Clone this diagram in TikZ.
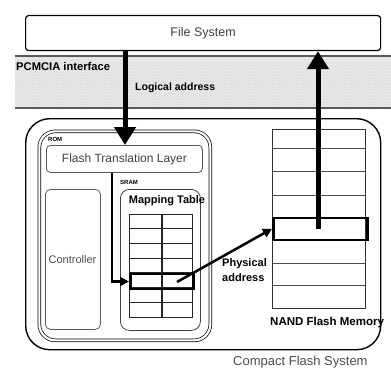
\documentclass[tikz,border=0pt]{standalone}
\usepackage{fontspec}
\setmainfont{Liberation Sans}
\usetikzlibrary{arrows.meta,patterns,calc}
\begin{document}
\begin{tikzpicture}[x=1pt,y=-1pt,
  box/.style={draw, inner sep=0pt, anchor=north west},
  lbl/.style={inner sep=0pt, anchor=west, font=\bfseries\fontsize{10.5}{12}\selectfont},
  tiny/.style={inner sep=0pt, anchor=west, font=\bfseries\fontsize{6}{7}\selectfont},
  big/.style={line width=5pt, -{Triangle[length=18pt,width=21pt]}},
  mid/.style={line width=2.5pt, -{Triangle[length=9pt,width=9pt]}},
  grid/.style={line width=1.1pt, black!85},
  sel/.style={box, line width=2.5pt},
]
\useasboundingbox (0,0) rectangle (391,369);

% PCMCIA band
\fill[black!6] (15,56) rectangle (391,108);
\fill[pattern=crosshatch, pattern color=black!14] (15,56) rectangle (391,108);
\draw[black!65, line width=1.5pt] (15,56) -- (391,56) (15,108) -- (391,108);
\node[lbl, font=\bfseries\fontsize{11.2}{13}\selectfont] (pcm) at (16,66) {PCMCIA interface};
\node[lbl] (logaddr) at (135,88) {Logical address};

% File system
\node[box, line width=1.2pt, rounded corners=3pt, minimum width=355pt, minimum height=35pt,
      font=\fontsize{12.5}{14}\selectfont, text=black!75] (fs) at (25,15) {File System};

% Compact flash system outer
\node[box, line width=1.4pt, rounded corners=24pt, minimum width=355pt, minimum height=231pt] (cfs) at (25,118) {};
\node[inner sep=0pt, anchor=west, font=\fontsize{13}{15}\selectfont, text=black!70] (cfslbl) at (233,362) {Compact Flash System};

% ROM
\node[box, line width=0.7pt, double, double distance=2.2pt, rounded corners=16pt, minimum width=171pt, minimum height=209pt] (rom) at (39,131) {};
\node[tiny] (romlbl) at (48,139) {ROM};

% FTL
\node[box, draw=black!65, line width=0.8pt, rounded corners=4pt, minimum width=156pt, minimum height=27pt,
      font=\fontsize{12}{14}\selectfont, text=black!75] (ftl) at (46,145) {Flash Translation Layer};

% Controller
\node[box, draw=black!65, line width=0.8pt, rounded corners=5pt, minimum width=55pt, minimum height=140pt] (ctrl) at (45,189) {};
\node[inner sep=0pt, font=\fontsize{11}{13}\selectfont, text=black!70] (ctrllbl) at (72.5,260) {Controller};

% SRAM
\node[tiny] (sramlbl) at (120,182) {SRAM};
\node[box, draw=black!75, line width=0.8pt, rounded corners=9pt, minimum width=80pt, minimum height=141pt] (sram) at (120,189) {};
\node[inner sep=0pt, font=\bfseries\fontsize{11}{13}\selectfont] (maplbl) at (167,201) {Mapping Table};

% Mapping table grid
\node[box, grid, minimum width=63pt, minimum height=103pt] (map) at (129,214) {};
\foreach \yy in {228.7,243.4,258.1,272.9,287.6,302.3} \draw[grid] (129,\yy) -- (192,\yy);
\draw[grid] (162,214) -- (162,317);
\node[sel, minimum width=63pt, minimum height=14.7pt] (maprow) at (129,272.9) {};

% NAND
\node[box, line width=1pt, black!80, minimum width=93pt, minimum height=179pt] (nand) at (272,129) {};
\foreach \yy in {148,171,195,217,239,263,285} \draw[line width=1pt, black!70] (272,\yy) -- (365,\yy);
\node[sel, minimum width=94pt, minimum height=22pt] (nandrow) at (272,216.5) {};
\node[lbl, font=\bfseries\fontsize{11.5}{13}\selectfont] (nandlbl) at (270,323) {NAND Flash Memory};

% Physical address label
\node[inner sep=0pt, anchor=north west, align=left, font=\bfseries\fontsize{11}{15}\selectfont] (phys) at (222,258) {Physical\\address};

% connectors
\coordinate (la) at (125,0);
\coordinate (ra) at (318,0);
\coordinate (lc) at (112,0);
\coordinate (ps) at (177,282);
\draw[big] (fs.south -| la) -- (ftl.north -| la);
\draw[big] (nandrow.center -| ra) -- (fs.south -| ra);
\draw[mid] (ftl.south -| lc) |- (maprow.west);
\draw[mid] (ps) -- (nandrow.west);
\end{tikzpicture}
\end{document}
